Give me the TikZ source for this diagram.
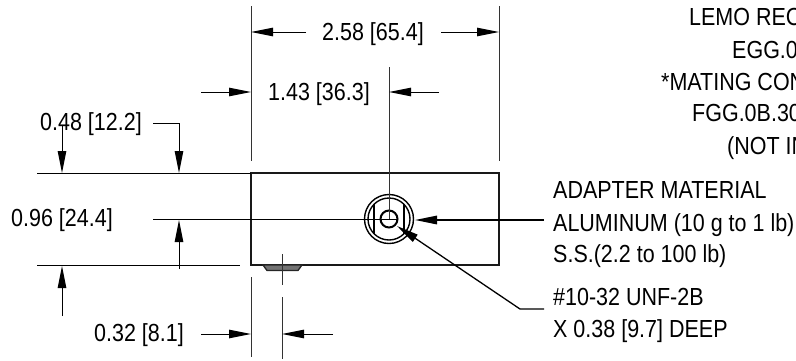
\documentclass[tikz,border=0pt]{standalone}
\usepackage{fontspec}
\setmainfont[FakeStretch=0.87]{Liberation Sans}
\usetikzlibrary{arrows.meta}
\tikzset{
  lbl/.style={anchor=base west,inner sep=0pt,font=\fontsize{24.7}{28}\selectfont},
  dimline/.style={line width=1pt,black},
  ext/.style={line width=1pt,black!80},
  tip/.style={dimline,-{Triangle[length=22pt,width=8.5pt]}},
  body/.style={line width=2pt,black!90}
}
\begin{document}
\begin{tikzpicture}[x=1pt,y=-1pt]
\useasboundingbox (0,0) rectangle (796,360);
% labels
\node[lbl] (d258) at (322,40) {2.58 [65.4]};
\node[lbl] (d143) at (268,100) {1.43 [36.3]};
\node[lbl] (d048) at (40,130) {0.48 [12.2]};
\node[lbl] (d096) at (11,226) {0.96 [24.4]};
\node[lbl] (d032) at (94,341) {0.32 [8.1]};
\node[lbl] (t1) at (689,25) {LEMO REC};
\node[lbl] (t2) at (732,58) {EGG.0};
\node[lbl] (t3) at (661,90) {*MATING CON};
\node[lbl] (t4) at (692,121) {FGG.0B.30};
\node[lbl] (t5) at (727,154) {(NOT IN};
\node[lbl] (m1) at (553,198) {ADAPTER MATERIAL};
\node[lbl] (m2) at (553,231) {ALUMINUM (10 g to 1 lb)};
\node[lbl] (m3) at (553,262) {S.S.(2.2 to 100 lb)};
\node[lbl] (h1) at (553,305) {\#10-32 UNF-2B};
\node[lbl] (h2) at (553,337) {X 0.38 [9.7] DEEP};
% body
\draw[body] (251,173) rectangle (499,265);
\coordinate (c) at (389,219);
\draw[line width=1.4pt] (c) circle (24.5);
\draw[line width=1.4pt] (c) circle (21);
\draw[line width=2pt] (c) circle (8.5);
\draw[line width=1.4pt] (374,204) -- (374,234);
\draw[line width=1.4pt] (404,204) -- (404,234);
\draw[line width=1.3pt,black!85,fill=black!55] (263,265) -- (267,270.5) -- (298,270.5) -- (302,265) -- cycle;
% extension lines
\coordinate (a1) at (251,6); \coordinate (a2) at (251,161);
\coordinate (b1) at (499,6); \coordinate (b2) at (499,161);
\coordinate (c1) at (389,67);
\coordinate (e1) at (251,277); \coordinate (e2) at (251,357);
\coordinate (f1) at (282,254); \coordinate (f2) at (282,285);
\coordinate (f3) at (282,297); \coordinate (f4) at (282,359);
\coordinate (g1) at (37,173); \coordinate (g2) at (251,173);
\coordinate (k1) at (37,265); \coordinate (k2) at (240,265);
\coordinate (l1) at (153,219); \coordinate (l2) at (398,219);
\draw[ext] (a1) -- (a2);
\draw[ext] (b1) -- (b2);
\draw[ext] (c1) -- (c);
\draw[ext] (e1) -- (e2);
\draw[ext] (f1) -- (f2);
\draw[ext] (f3) -- (f4);
\draw[dimline] (g1) -- (g2);
\draw[dimline] (k1) -- (k2);
\draw[dimline] (l1) -- (l2);
% dimension arrows
\draw[tip] (306,32) -- (a1 |- 0,32);
\draw[tip] (441,32) -- (b1 |- 0,32);
\draw[tip] (201,92) -- (a1 |- 0,92);
\draw[tip] (439,92) -- (c1 |- 0,92);
\draw[tip] (201,334) -- (e1 |- 0,334);
\draw[tip] (333,334) -- (f1 |- 0,334);
\draw[tip] (62,125) -- (62,173);
\draw[tip] (153,123) -- (179,123) -- (179,173);
\draw[tip] (179,269) -- (179,220);
\draw[tip] (62,316) -- (62,266);
\draw[tip,line width=1.5pt] (544,220) -- (415,220);
\draw[tip,line width=1.3pt] (544,309) -- (520,309) -- (397,226);
\end{tikzpicture}
\end{document}
